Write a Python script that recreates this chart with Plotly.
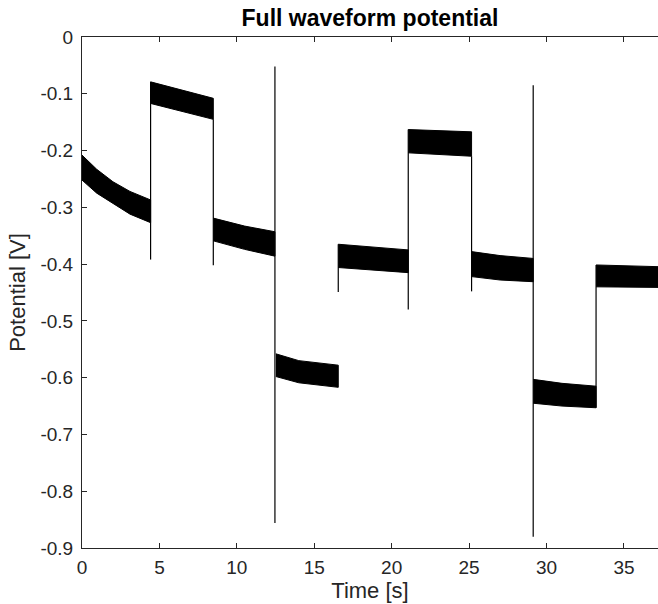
import plotly.graph_objects as go

# Envelope of the noisy potential signal, per constant-current segment
seg_t = [
    [0.0, 0.95, 2.0, 3.1, 4.43],
    [4.43, 8.48],
    [8.48, 10.5, 12.46],
    [12.52, 14.0, 16.55],
    [16.55, 21.07],
    [21.07, 25.16],
    [25.16, 27.0, 29.14],
    [29.14, 31.0, 33.2],
    [33.2, 37.2],
]
seg_upper = [
    [-0.208, -0.233, -0.255, -0.272, -0.287],
    [-0.079, -0.108],
    [-0.319, -0.333, -0.343],
    [-0.558, -0.570, -0.578],
    [-0.365, -0.375],
    [-0.163, -0.167],
    [-0.378, -0.385, -0.390],
    [-0.603, -0.610, -0.615],
    [-0.4015, -0.4045],
]
seg_lower = [
    [-0.252, -0.275, -0.293, -0.312, -0.327],
    [-0.117, -0.145],
    [-0.359, -0.374, -0.386],
    [-0.598, -0.609, -0.617],
    [-0.406, -0.415],
    [-0.204, -0.210],
    [-0.422, -0.428, -0.431],
    [-0.645, -0.650, -0.653],
    [-0.440, -0.441],
]

# Switching transients (vertical excursions)
switch_t = [4.43, 8.48, 12.46, 16.55, 21.07, 25.16, 29.14, 33.2]
switch_lo = [-0.392, -0.402, -0.856, -0.449, -0.480, -0.448, -0.880, -0.653]
switch_hi = [-0.079, -0.145, -0.052, -0.365, -0.163, -0.210, -0.085, -0.4015]

y_ticks = [-0.9, -0.8, -0.7, -0.6, -0.5, -0.4, -0.3, -0.2, -0.1, 0.0]
y_tick_text = ["-0.9", "-0.8", "-0.7", "-0.6", "-0.5", "-0.4", "-0.3", "-0.2", "-0.1", "0"]
x_ticks = [0, 5, 10, 15, 20, 25, 30, 35]

fig = go.Figure()

for t, up, lo in zip(seg_t, seg_upper, seg_lower):
    fig.add_trace(go.Scatter(
        x=t + t[::-1], y=up + lo[::-1],
        mode="lines", fill="toself", fillcolor="black",
        line=dict(color="black", width=1), showlegend=False, hoverinfo="skip",
    ))

sx, sy = [], []
for t, lo, hi in zip(switch_t, switch_lo, switch_hi):
    sx += [t, t, None]
    sy += [lo, hi, None]
fig.add_trace(go.Scatter(x=sx, y=sy, mode="lines",
                         line=dict(color="black", width=1.2), showlegend=False))

axis_color = "#262626"
fig.update_layout(
    width=658, height=604,
    margin=dict(l=82, r=0, t=37, b=56, autoexpand=False),
    plot_bgcolor="white", paper_bgcolor="white",
    font=dict(family="Liberation Sans, Arial, sans-serif", size=19, color=axis_color),
    title=dict(text="<b>Full waveform potential</b>", x=0.5, xref="paper", xanchor="center",
               y=1 - 18 / 604, yref="container", yanchor="middle", automargin=False,
               font=dict(size=23, color="black")),
    showlegend=False,
)
fig.update_xaxes(
    range=[0, 37.2], tickvals=x_ticks, ticks="inside", ticklen=5,
    showgrid=False, zeroline=False, showline=True, linecolor=axis_color,
    linewidth=1, mirror="ticks", tickcolor=axis_color, automargin=False,
    ticklabelstandoff=2,
    title=dict(text="Time [s]", font=dict(size=22), standoff=4),
)
fig.update_yaxes(
    range=[-0.9, 0], tickvals=y_ticks, ticktext=y_tick_text, ticks="inside",
    ticklen=5, showgrid=False, zeroline=False, showline=True,
    linecolor=axis_color, linewidth=1, tickcolor=axis_color, automargin=False,
    ticklabelstandoff=4,
    title=dict(text="Potential [V]", font=dict(size=22), standoff=8),
)

fig.write_html(
    "out.html",
    config={"displayModeBar": False},
    post_script="document.body.style.margin='0';document.body.style.overflow='hidden';",
)
